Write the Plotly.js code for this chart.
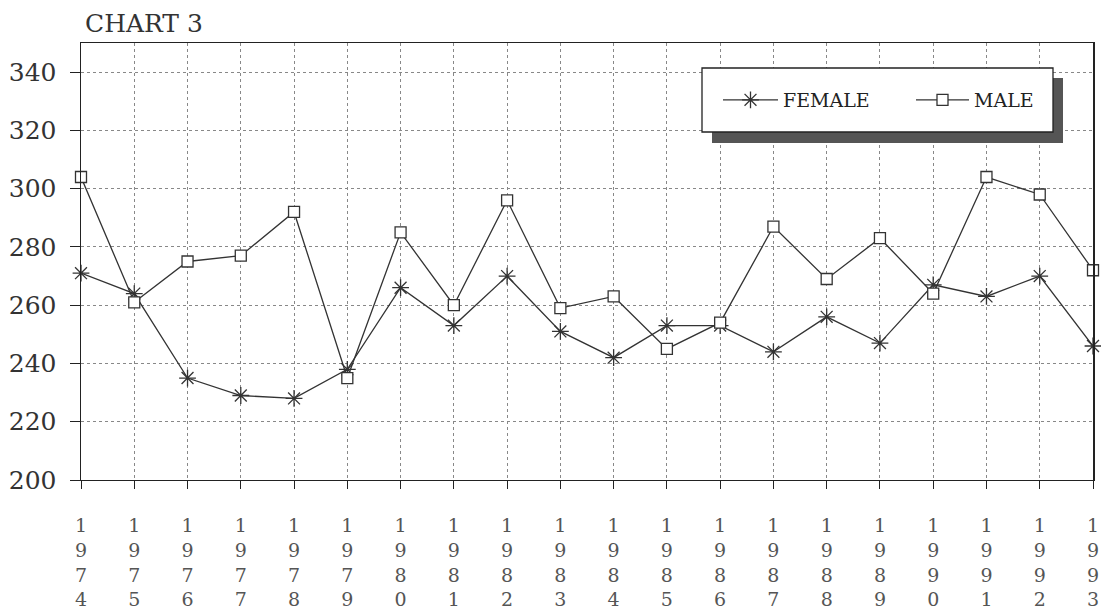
<!DOCTYPE html>
<html>
<head>
<meta charset="utf-8">
<script src="https://cdn.plot.ly/plotly-3.0.1.min.js"></script>
<style>
  html, body { margin: 0; padding: 0; background: #ffffff; }
  #chart { width: 1101px; height: 611px; }
</style>
</head>
<body>
<div id="chart"></div>
<script>
// ---- data ----
const years = [1974, 1975, 1976, 1977, 1978, 1979, 1980, 1981, 1982, 1983,
               1984, 1985, 1986, 1987, 1988, 1989, 1990, 1991, 1992, 1993];
const yearLabels = ["1974", "1975", "1976", "1977", "1978", "1979", "1980", "1981", "1982", "1983",
                    "1984", "1985", "1986", "1987", "1988", "1989", "1990", "1991", "1992", "1993"];
const female = [271, 264, 235, 229, 228, 238, 266, 253, 270, 251,
                242, 253, 253, 244, 256, 247, 267, 263, 270, 246];
const male   = [304, 261, 275, 277, 292, 235, 285, 260, 296, 259,
                263, 245, 254, 287, 269, 283, 264, 304, 298, 272];
const yTicks = [200, 220, 240, 260, 280, 300, 320, 340];
const chartTitle = "CHART 3";
const seriesNames = ["FEMALE", "MALE"];

// stacked (vertical) year labels
const stackedLabels = yearLabels.map(s => s.split("").join("<br>"));

const FONT = "DejaVu Serif, Liberation Serif, serif";
const INK = "#333333";

const traces = [
  {
    x: years, y: female, name: seriesNames[0], type: "scatter", mode: "lines+markers",
    line: { color: INK, width: 1.3 },
    marker: { symbol: "asterisk-open", size: 14, color: INK, line: { color: INK, width: 1.3 } },
    cliponaxis: false, legend: "legend"
  },
  {
    x: years, y: male, name: seriesNames[1], type: "scatter", mode: "lines+markers",
    line: { color: INK, width: 1.3 },
    marker: { symbol: "square", size: 11, color: "#ffffff", line: { color: INK, width: 1.3 } },
    cliponaxis: false, legend: "legend2"
  }
];

const L = 81, T = 43, W = 1101, H = 611, B = 131, R = 8;
const plotW = W - L - R, plotH = H - T - B;
const px2x = p => (p - L) / plotW;
const px2y = p => (H - B - p) / plotH;

const layout = {
  width: W, height: H,
  margin: { l: L, r: R, t: T, b: B, pad: 0 },
  paper_bgcolor: "#ffffff",
  plot_bgcolor: "#ffffff",
  font: { family: FONT, color: INK },
  title: {
    text: chartTitle,
    font: { family: FONT, size: 25, color: INK },
    xref: "container", yref: "container",
    x: 85 / W, xanchor: "left",
    y: 1 - 23 / H, yanchor: "middle"
  },
  xaxis: {
    range: [1974, 1993],
    tickmode: "array", tickvals: years, ticktext: stackedLabels,
    ticks: "outside", ticklen: 8, tickwidth: 1, tickcolor: "#222",
    tickfont: { family: FONT, size: 19, color: "#555" },
    ticklabelstandoff: 20,
    ticklabeloverflow: "allow",
    showgrid: true, gridcolor: "#888", griddash: "dot", gridwidth: 1,
    showline: true, linecolor: "#222", linewidth: 1.3, mirror: true,
    zeroline: false, fixedrange: true
  },
  yaxis: {
    range: [200, 350],
    tickmode: "array", tickvals: yTicks,
    ticks: "outside", ticklen: 10, tickwidth: 1, tickcolor: "#222",
    tickfont: { family: FONT, size: 25, color: INK },
    ticklabelstandoff: 8,
    showgrid: true, gridcolor: "#888", griddash: "dot", gridwidth: 1,
    showline: true, linecolor: "#222", linewidth: 1.5, mirror: true,
    zeroline: false, fixedrange: true
  },
  shapes: [
    // legend drop shadow
    { type: "rect", xref: "paper", yref: "paper", layer: "above",
      x0: px2x(712), x1: px2x(1063), y0: px2y(143), y1: px2y(78),
      fillcolor: "#555555", line: { width: 0 } },
    // legend box
    { type: "rect", xref: "paper", yref: "paper", layer: "above",
      x0: px2x(702), x1: px2x(1053), y0: px2y(132), y1: px2y(68),
      fillcolor: "#ffffff", line: { color: "#222", width: 1.3 } }
  ],
  legend: {
    x: px2x(718), y: px2y(100), xanchor: "left", yanchor: "middle",
    bgcolor: "rgba(0,0,0,0)", borderwidth: 0,
    font: { family: FONT, size: 19, color: "#222" },
    itemwidth: 55
  },
  legend2: {
    x: px2x(911), y: px2y(100), xanchor: "left", yanchor: "middle",
    bgcolor: "rgba(0,0,0,0)", borderwidth: 0,
    font: { family: FONT, size: 19, color: "#222" },
    itemwidth: 53
  },
  showlegend: true
};

Plotly.newPlot("chart", traces, layout, { staticPlot: true, displayModeBar: false });
</script>
</body>
</html>
